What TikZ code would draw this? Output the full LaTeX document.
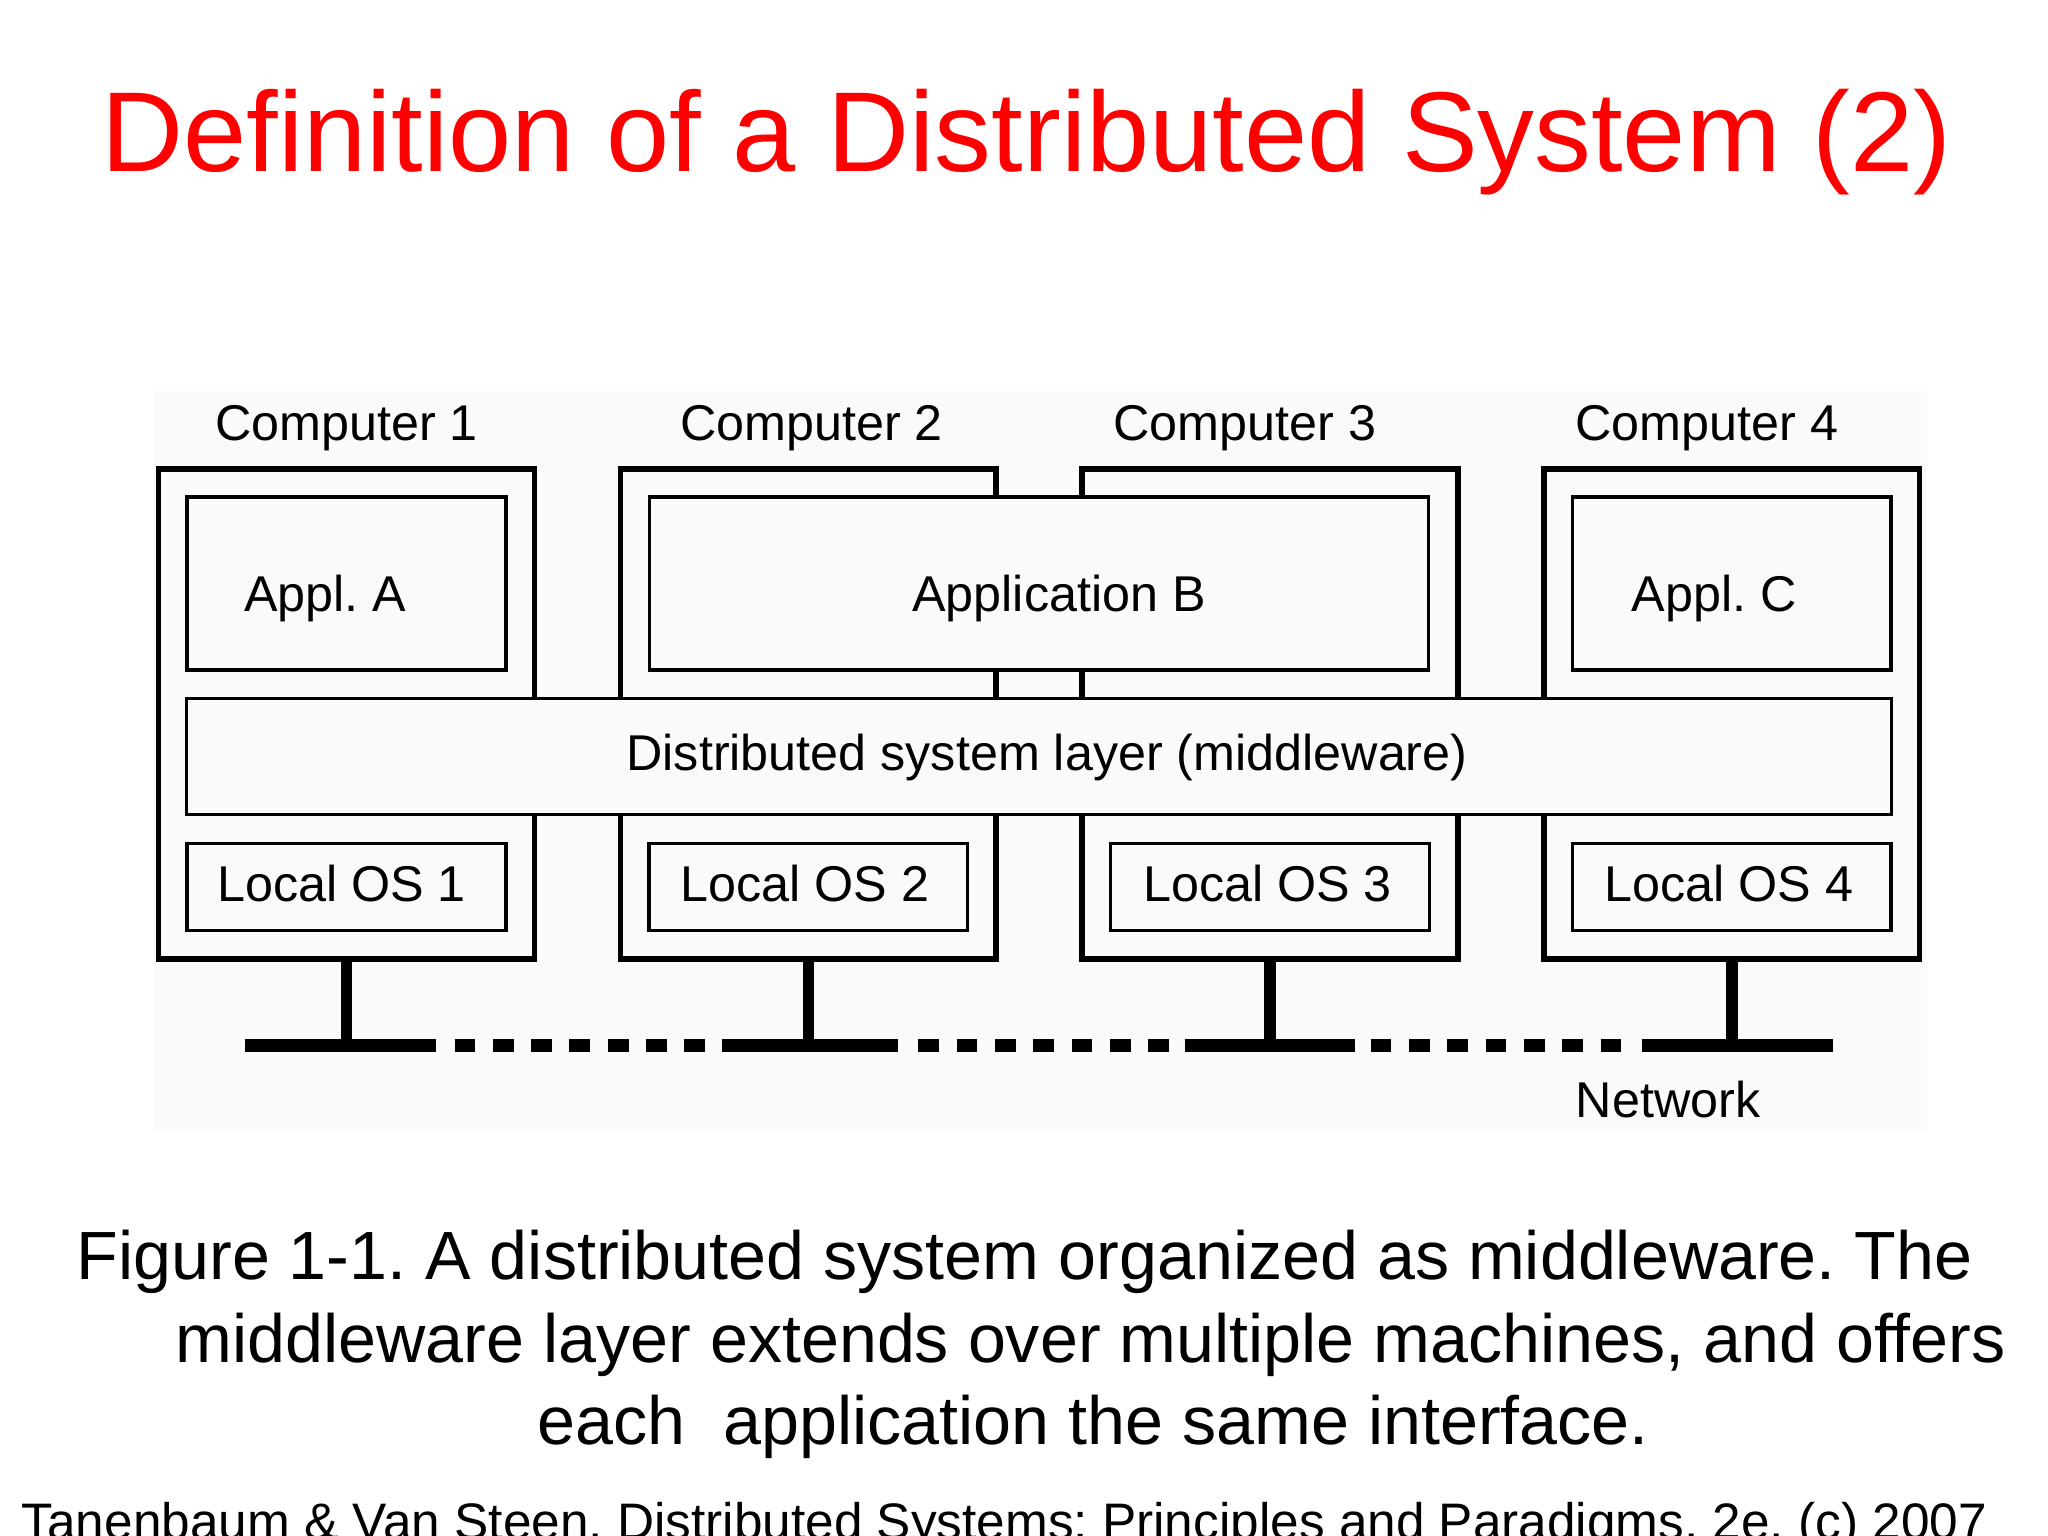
\documentclass[tikz,border=0pt]{standalone}
\usepackage{fontspec}
\setmainfont{Liberation Sans}
\definecolor{panel}{RGB}{250,250,250}
\frenchspacing
\begin{document}
\begin{tikzpicture}[x=0.01cm, y=-0.01cm,
    comp/.style={draw, line width=1.62pt, fill=panel, inner sep=0pt, minimum width=3.755cm, minimum height=4.898cm},
    layer/.style={draw, line width=0.97pt, fill=panel, inner sep=0pt},
    lbl/.style={font=\fontsize{14.3}{17}\selectfont, anchor=base, inner sep=0pt},
    captxt/.style={font=\fontsize{19.4}{23}\selectfont, anchor=base west, inner sep=0pt},
    stem/.style={line width=3.27pt},
    net/.style={line width=3.6pt},
    netdash/.style={line width=3.6pt, dash pattern=on 0.207cm off 0.176cm}]
  \useasboundingbox (0,0) rectangle (2048,1536);
  \fill[panel] (154,391) rectangle (1926.5,1130);
  % Title
  \node[font=\fontsize{32.3}{38}\selectfont, text=red, anchor=base, inner sep=0pt] (title) at (1026.5,171) {Definition of a Distributed System (2)};
  % Computers with their local OS
  \foreach \i/\x/\lx/\ox in {1/346.5/346.6/341.5, 2/808.25/811.6/805, 3/1270/1244.9/1267.6, 4/1731.75/1707/1729} {
    \node[comp] (c\i) at (\x,713.7) {};
    \node[lbl] (ct\i) at (\lx,440) {Computer \i};
    \node[layer, minimum width=3.185cm, minimum height=0.865cm] (os\i) at (\x,887) {};
    \node[lbl] (ost\i) at (\ox,901.2) {Local OS \i};
    \coordinate (n\i) at (\x,1045.5);
  }
  % Applications
  \node[layer, minimum width=3.185cm, minimum height=1.73cm] (appa) at (346.5,583.5) {};
  \node[lbl] (appat) at (325.4,611.5) {Appl. A};
  \node[layer, minimum width=7.79cm, minimum height=1.73cm] (appb) at (1039,583.5) {};
  \node[lbl] (appbt) at (1059,611.5) {Application B};
  \node[layer, minimum width=3.185cm, minimum height=1.73cm] (appc) at (1731.75,583.5) {};
  \node[lbl] (appct) at (1714,611.5) {Appl. C};
  % Middleware across all machines
  \node[layer, minimum width=17.038cm, minimum height=1.159cm] (mw) at (1039.1,756.75) {};
  \node[lbl] (mwt) at (1047,770.3) {Distributed system layer (middleware)};
  % Network
  \draw[net] (244.5,1045.5) -- (436,1045.5);
  \draw[net] (722,1045.5) -- (897.7,1045.5);
  \draw[net] (1184.7,1045.5) -- (1354.5,1045.5);
  \draw[net] (1641.5,1045.5) -- (1833.3,1045.5);
  \draw[netdash] (454.5,1045.5) -- (704.8,1045.5);
  \draw[netdash] (918.3,1045.5) -- (1168.6,1045.5);
  \draw[netdash] (1370.6,1045.5) -- (1620.9,1045.5);
  \foreach \i in {1,...,4} \draw[stem] (c\i.south) -- (n\i);
  \node[lbl] (netl) at (1668,1117) {Network};
  % Caption and source
  \node[captxt] (cap1) at (76,1279.4) {Figure 1-1. A distributed system organized as middleware. The};
  \node[captxt] (cap2) at (175,1362) {middleware layer extends over multiple machines, and offers};
  \node[captxt] (cap3) at (537,1444) {each\ \ application the same interface.};
  \node[font=\fontsize{14.6}{17}\selectfont, anchor=base west, inner sep=0pt] (src) at (21,1539.5) {Tanenbaum \& Van Steen, Distributed Systems: Principles and Paradigms, 2e, (c) 2007};
\end{tikzpicture}
\end{document}
